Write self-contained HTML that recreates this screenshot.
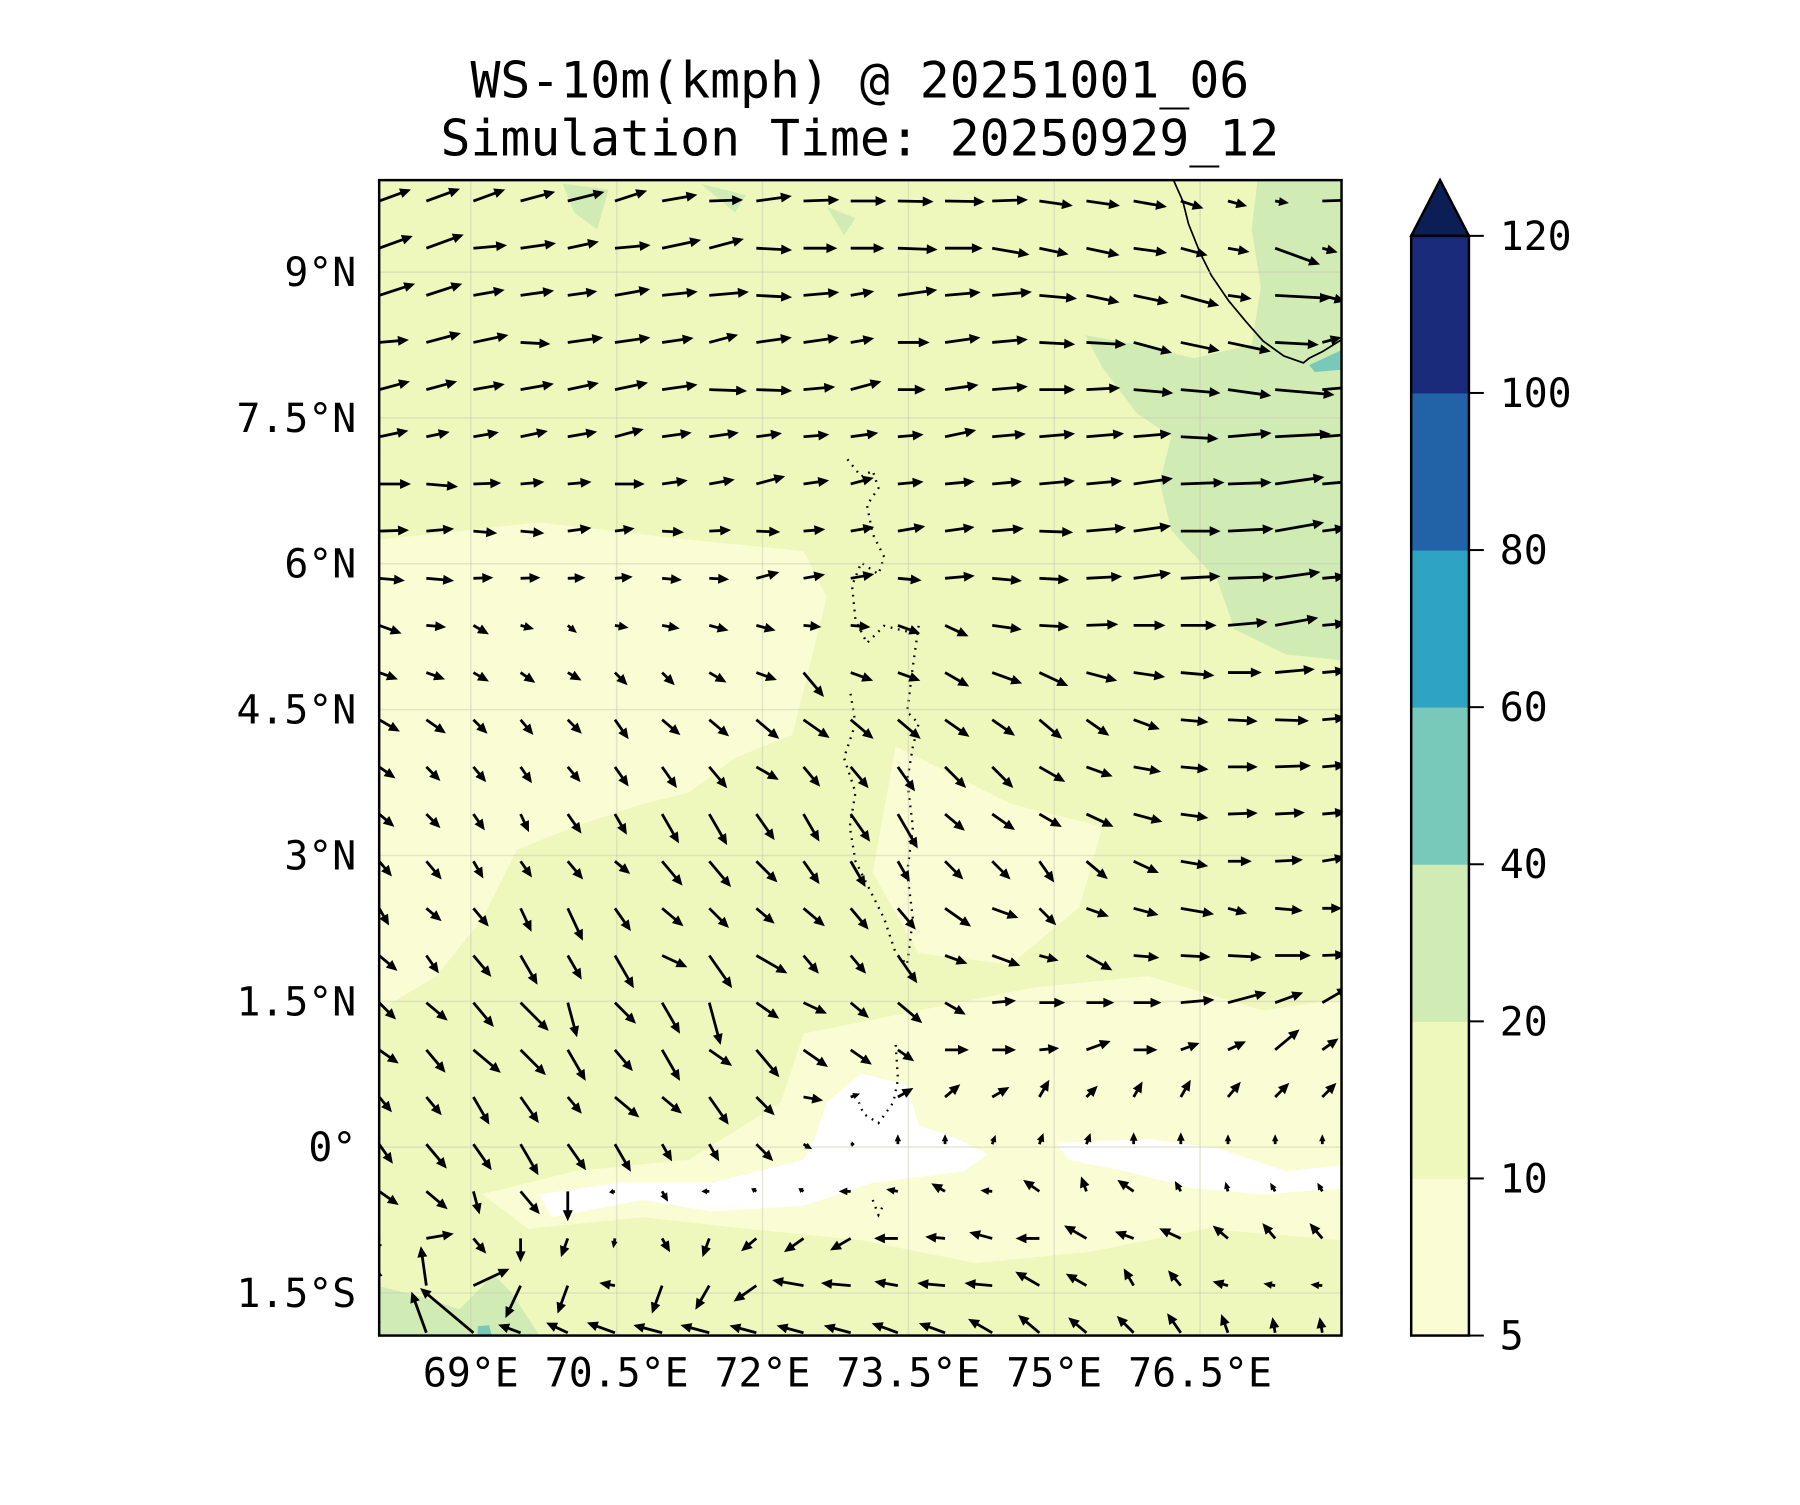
<!DOCTYPE html>
<html><head><meta charset="utf-8">
<style>
html,body{margin:0;padding:0;background:#fff;}
svg text{font-family:"DejaVu Sans Mono","Liberation Mono",monospace;fill:#000;}
</style></head>
<body>
<svg id="chart" width="1800" height="1500" viewBox="0 0 1800 1500" xmlns="http://www.w3.org/2000/svg">
<defs><clipPath id="axclip"><rect x="381" y="181" width="967" height="1161"/></clipPath></defs>
<g transform="scale(0.9952)">
<text x="864" y="98" font-size="50" text-anchor="middle">WS-10m(kmph) @ 20251001_06</text>
<text x="864" y="156" font-size="50" text-anchor="middle">Simulation Time: 20250929_12</text>
<g clip-path="url(#axclip)">
 <rect x="381" y="181" width="967" height="1161" fill="#eff8bc"/>
 <g transform="scale(1.15385)">
  <path fill="#fafdd3" d="M330,470 L470,455 L600,470 L700,480 L720,520 L700,600 L690,640 L640,660 L600,690 L560,700 L500,720 L450,740 L420,800 L380,850 L330,880 Z"/>
  <path fill="#fafdd3" d="M700,900 L800,880 L900,860 L1000,850 L1100,880 L1168,870 L1168,1080 L1050,1070 L950,1090 L850,1100 L750,1080 L650,1070 L560,1060 L460,1070 L420,1040 L500,1020 L600,1010 L680,960 Z"/>
  <path fill="#fafdd3" d="M780,650 L880,700 L960,720 L940,790 L880,840 L800,830 L760,760 Z"/>
  <path fill="#ffffff" d="M720,960 L750,935 L790,945 L800,980 L830,990 L860,1005 L840,1020 L760,1030 L700,1050 L620,1055 L560,1045 L480,1060 L470,1040 L540,1030 L620,1030 L700,1010 L710,990 Z"/>
  <path fill="#ffffff" d="M920,995 L1000,992 L1060,1000 L1120,1020 L1168,1015 L1168,1035 L1100,1040 L1040,1035 L980,1020 L930,1010 Z"/>
  <path fill="#ffffff" d="M1125,195 L1168,188 L1168,225 L1130,215 Z"/>
  <path fill="#d0ecb4" d="M1095,157 L1168,157 L1168,575 L1120,570 L1075,548 L1060,505 L1020,462 L1010,420 L1020,380 L990,360 L960,320 L945,292 L990,300 L1040,312 L1090,300 L1098,250 L1090,200 Z"/>
  <path fill="#d0ecb4" d="M330,1120 L370,1130 L400,1140 L430,1110 L445,1125 L470,1163 L330,1163 Z"/>
  <path fill="#d0ecb4" d="M490,160 L530,165 L520,200 L500,185 Z M610,160 L650,170 L640,185 Z M720,180 L745,190 L735,205 Z"/>
  <path fill="#79c9bb" d="M1140,318 L1168,305 L1168,322 L1145,324 Z M416,1155 L426,1154 L428,1162 L416,1162 Z"/>
  <path fill="none" stroke="#000" stroke-width="1.5" d="M1022,157 L1030,175 L1035,195 L1045,220 L1055,240 L1070,262 L1085,280 L1100,297 L1118,310 L1135,316 L1140,312 L1152,306 L1168,296"/>
  <path fill="none" stroke="#000" stroke-width="2" stroke-dasharray="1.5 5" d="M738,400 L750,415 L760,410 L765,425 L755,440 L760,465 L770,485 L765,500 L750,490 L742,510 L745,540 L755,560 L770,545 L790,550 L800,545 L795,580 L790,620 L800,630 L795,650 L790,680 L795,720 L790,760 L795,800 L790,840 L780,830 L770,800 L760,780 L745,750 L740,720 L745,690 L735,660 L745,630 L740,600 M780,910 L782,940 L778,960 L765,978 L752,970 L748,960 M760,1045 L765,1058 L770,1048"/>
 </g>
 <g id="gridlines"></g>
 <g id="arrows"></g>
</g>
<rect x="381" y="181" width="967" height="1161" fill="none" stroke="#000" stroke-width="2.5"/>
<g id="yticks"></g>
<g id="xticks"></g>
<g id="cbar"></g>
</g>
</svg>
<script>
const latTicks = [9, 7.5, 6, 4.5, 3, 1.5, 0, -1.5];
const latLabels = ["9°N","7.5°N","6°N","4.5°N","3°N","1.5°N","0°","1.5°S"];
const lonTicks = [69, 70.5, 72, 73.5, 75, 76.5];
const lonLabels = ["69°E","70.5°E","72°E","73.5°E","75°E","76.5°E"];
const cbarLevels = [5, 10, 20, 40, 60, 80, 100, 120];
const cbarColors = ["#fafdd3","#eff8bc","#d0ecb4","#79c9bb","#2fa3c4","#2263a8","#1b2b7b"];
const cbarExtendColor = "#0b1f56";
const gridLonStart = 68.057, gridLatStart = 9.731, gridStep = 0.485;

// wind direction (deg, CCW from east) per row, north to south
const dirRows = [
[20,20,20,15,14,18,10,2,8,2,0,-1,-1,2,-8,-8,-10,-18,-15,-8,2],
[20,20,5,8,12,5,12,15,-3,0,0,-2,0,-10,-12,-12,-8,-15,-10,-20,-15],
[18,18,10,8,8,10,6,5,-3,5,10,8,5,5,-5,-12,-12,-15,-8,-3,-15],
[5,15,12,-3,8,8,8,15,8,8,10,0,8,5,-3,-3,-15,-12,-12,-3,15],
[15,15,10,10,12,12,8,-2,-2,5,15,0,8,5,0,3,-5,-5,-8,-5,5],
[12,12,10,12,10,15,8,8,8,5,8,5,12,5,5,5,5,-3,5,3,5],
[0,-5,2,5,5,0,8,10,15,8,15,5,5,5,5,5,8,2,2,8,5],
[2,5,-5,-5,8,8,-3,3,-2,5,10,10,8,5,-2,5,8,0,3,10,8],
[-5,-5,2,2,2,5,-5,-3,15,10,10,-5,5,-5,-3,3,8,3,2,8,5],
[-20,-5,-30,-15,-40,-10,-10,-15,-15,-5,-5,-20,-25,-8,-3,2,0,0,5,10,5],
[-20,-20,-30,-35,-30,-45,-45,-30,-20,-50,-20,-20,-30,-20,-25,-15,-8,-5,0,5,5],
[-30,-35,-45,-50,-45,-55,-40,-40,-40,-35,-40,-40,-35,-35,-40,-35,-20,-5,-3,-2,5],
[-35,-45,-50,-55,-50,-55,-55,-50,-30,-50,-50,-55,-45,-45,-30,-20,-10,-5,0,2,5],
[-40,-45,-55,-65,-55,-60,-60,-60,-55,-60,-55,-60,-40,-35,-30,-25,-15,-8,2,3,5],
[-50,-50,-60,-55,-50,-40,-50,-50,-45,-55,-60,-60,-45,-45,-55,-40,-25,-10,0,3,10],
[-60,-40,-50,-65,-65,-55,-40,-45,-40,-40,-50,-50,-35,-20,-45,-20,-15,-10,-15,-5,0],
[-40,-55,-50,-60,-60,-60,-25,-55,-30,-50,-50,-55,-20,-20,-15,-30,-5,-3,-3,0,2],
[-45,-40,-50,-45,-75,-45,-60,-75,-35,-25,-40,-40,-30,5,0,0,0,5,15,20,30],
[-35,-50,-40,-45,-60,-50,-60,-35,-50,-35,-35,-35,0,0,5,20,0,20,25,40,35],
[-50,-50,-60,-55,-50,-40,-40,-55,-45,-10,20,30,40,30,60,45,60,60,50,45,45],
[-55,-50,-55,-60,-55,-60,-60,-60,-45,-30,0,90,90,70,70,70,90,90,90,90,90],
[-35,-40,-75,-50,-90,-170,-60,180,150,150,180,170,150,175,145,110,145,120,105,120,120],
[-110,10,-50,-90,-110,-100,-60,-110,-140,-145,-150,180,175,165,180,150,160,155,140,130,130],
[100,98,25,-115,-110,170,-110,-120,-145,170,175,170,175,175,150,150,120,130,165,170,175],
[110,110,140,160,155,160,165,165,165,165,165,160,160,150,140,140,135,125,110,100,100]
];
// wind speed (arbitrary kmph-like units) per row
const spdRows = [
[17,18,17,18,19,17,18,17,18,18,18,18,20,18,17,17,17,12,10,7,22],
[18,20,17,18,16,18,20,18,18,17,17,20,19,19,15,17,17,14,11,24,8],
[19,19,16,17,15,18,18,20,18,18,12,20,18,20,19,17,18,20,12,28,12],
[15,18,18,15,18,18,16,15,18,18,12,16,18,18,18,20,20,20,22,22,10],
[16,16,16,17,16,17,18,19,18,16,16,14,17,18,18,17,20,20,22,30,15],
[15,12,13,14,15,15,15,15,13,13,14,13,16,17,18,19,19,19,22,28,15],
[16,16,14,12,12,15,13,13,15,13,12,13,15,15,18,18,20,22,22,25,15],
[15,14,12,12,12,10,11,11,12,11,12,14,15,16,17,20,19,20,23,25,12],
[13,14,10,10,9,9,10,10,12,11,12,12,15,15,15,18,19,20,23,23,12],
[12,10,9,7,6,7,9,10,10,9,10,12,13,15,15,16,16,18,20,22,12],
[10,10,9,9,8,9,9,10,11,16,12,12,14,16,16,16,16,17,17,20,12],
[12,12,10,10,10,12,12,13,15,16,15,15,15,14,15,14,14,14,15,17,12],
[10,10,10,10,10,12,13,14,13,13,14,15,15,15,15,14,14,14,15,18,12],
[10,10,10,10,12,12,17,18,16,16,17,20,13,14,13,15,15,14,15,15,12],
[10,12,10,10,12,10,16,17,15,14,15,12,13,13,13,14,14,14,12,14,12],
[10,10,12,13,18,14,14,14,12,14,14,14,16,14,12,12,13,17,10,14,10],
[12,11,14,17,14,19,14,20,18,12,12,17,12,15,10,15,13,15,17,18,12],
[12,14,16,20,18,15,18,22,14,13,12,16,12,12,13,14,14,17,20,15,15],
[12,15,18,18,18,14,18,14,18,15,13,10,12,12,10,13,12,10,10,16,10],
[10,12,16,16,11,16,13,17,13,10,5,9,10,10,10,8,9,10,10,10,10],
[12,16,16,18,16,16,10,10,12,5,2,5,5,5,6,6,6,6,5,5,5],
[12,14,12,15,15,3,6,4,3,3,6,6,8,6,10,8,10,6,5,5,5],
[8,14,10,12,10,5,8,10,10,12,12,12,10,12,12,13,10,12,10,10,10],
[10,20,20,18,15,8,15,14,14,16,15,12,14,14,14,12,10,10,8,6,6],
[10,22,35,12,12,15,15,15,14,14,14,14,14,14,14,12,12,12,10,8,8]
];

const NS = "http://www.w3.org/2000/svg";
const pxPerDeg = 97.7;
function xScale(lon){ return 473.1 + (lon - 69) * pxPerDeg; }
function yScale(lat){ return 1152.7 - lat * pxPerDeg; }
const cbTop = 237, cbBot = 1342, cbL = 1418, cbR = 1476;
function cbScale(i){ return cbBot - i * (cbBot - cbTop) / (cbarLevels.length - 1); }
function mk(tag, parent){ const e = document.createElementNS(NS, tag); parent.appendChild(e); return e; }

const grid = document.getElementById('gridlines');
latTicks.forEach(function(lat){
  const l = mk('line', grid);
  
  
  l.setAttribute('x1', 381); l.setAttribute('x2', 1348);
  l.setAttribute('y1', yScale(lat)); l.setAttribute('y2', yScale(lat));
  l.setAttribute('stroke', '#c8c8b4'); l.setAttribute('stroke-opacity', '0.45'); l.setAttribute('stroke-width', '1.5');
});
lonTicks.forEach(function(lon){
  const l = mk('line', grid);
  
  
  l.setAttribute('y1', 181); l.setAttribute('y2', 1342);
  l.setAttribute('x1', xScale(lon)); l.setAttribute('x2', xScale(lon));
  l.setAttribute('stroke', '#c8c8b4'); l.setAttribute('stroke-opacity', '0.45'); l.setAttribute('stroke-width', '1.5');
});

const yt = document.getElementById('yticks');
latTicks.forEach(function(lat, k){
  const t = mk('text', yt);
  
  
  t.setAttribute('x', 358); t.setAttribute('y', yScale(lat) + 14);
  t.setAttribute('font-size', '40'); t.setAttribute('text-anchor', 'end');
  t.textContent = latLabels[k];
});
const xt = document.getElementById('xticks');
lonTicks.forEach(function(lon, k){
  const t = mk('text', xt);
  
  
  t.setAttribute('x', xScale(lon)); t.setAttribute('y', 1393);
  t.setAttribute('font-size', '40'); t.setAttribute('text-anchor', 'middle');
  t.textContent = lonLabels[k];
});

const ar = document.getElementById('arrows');
const pxPerUnit = 2.0;
dirRows.forEach(function(row, j){
  row.forEach(function(d, i){
    const s = spdRows[j][i];
    const lon = gridLonStart + i * gridStep, lat = gridLatStart - j * gridStep;
    const x = xScale(lon), y = yScale(lat);
    const L = s * pxPerUnit;
    let hl = 11, hw = 5, sw = 1.4;
    if (L < hl * 1.4) { const f = L / (hl * 1.4); hl *= f; hw *= Math.max(f, 0.6); }
    const pts = [[0,-sw],[L-hl,-sw],[L-hl,-hw],[L,0],[L-hl,hw],[L-hl,sw],[0,sw]];
    const p = mk('polygon', ar);
    
    
    p.setAttribute('points', pts.map(function(q){ return q[0].toFixed(1) + ',' + q[1].toFixed(1); }).join(' '));
    p.setAttribute('transform', 'translate(' + x.toFixed(1) + ',' + y.toFixed(1) + ') rotate(' + (-d) + ')');
    p.setAttribute('fill', '#000');
  });
});

const cb = document.getElementById('cbar');
cbarColors.forEach(function(c, i){
  const r = mk('rect', cb);
  
  
  r.setAttribute('x', cbL); r.setAttribute('width', cbR - cbL);
  r.setAttribute('y', cbScale(i + 1)); r.setAttribute('height', cbScale(i) - cbScale(i + 1) + 0.5);
  r.setAttribute('fill', c);
});
const tri = mk('polygon', cb);


tri.setAttribute('points', cbL + ',' + cbTop + ' ' + (cbL + cbR) / 2 + ',181 ' + cbR + ',' + cbTop);
tri.setAttribute('fill', cbarExtendColor); tri.setAttribute('stroke', '#000'); tri.setAttribute('stroke-width', '2.5');
const frame = mk('rect', cb);


frame.setAttribute('x', cbL); frame.setAttribute('y', cbTop); frame.setAttribute('width', cbR - cbL); frame.setAttribute('height', cbBot - cbTop);
frame.setAttribute('fill', 'none'); frame.setAttribute('stroke', '#000'); frame.setAttribute('stroke-width', '2.5');
cbarLevels.forEach(function(v, i){
  const y = cbScale(i);
  const tk = mk('line', cb);
  
  
  tk.setAttribute('x1', cbR); tk.setAttribute('x2', cbR + 15); tk.setAttribute('y1', y); tk.setAttribute('y2', y);
  tk.setAttribute('stroke', '#000'); tk.setAttribute('stroke-width', '2');
  const t = mk('text', cb);
  
  
  t.setAttribute('x', 1507); t.setAttribute('y', y + 14); t.setAttribute('font-size', '40');
  t.textContent = v;
});
</script>
</body></html>
